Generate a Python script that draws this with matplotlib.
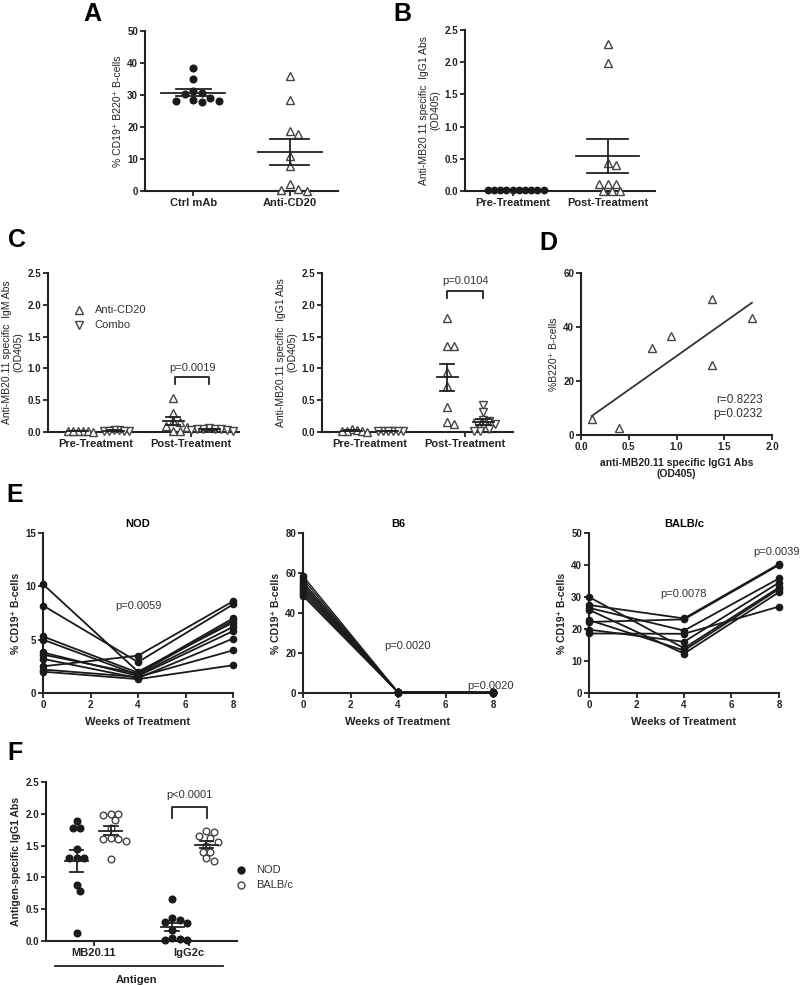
import numpy as np
import matplotlib
matplotlib.use('Agg')
import matplotlib.pyplot as plt

plt.rcParams['font.family'] = ['Liberation Sans', 'DejaVu Sans']

# ---- data ----
a_ctrl = [38.4, 35.0, 31.4, 30.5, 30.3, 29.1, 28.5, 28.2, 28.0, 27.9]
a_anti = [35.8, 28.4, 18.9, 17.9, 10.8, 7.9, 2.2, 0.5, 0.3, 0.0]

b_pre = [0.01, 0.01, 0.01, 0.01, 0.01, 0.01, 0.01, 0.01, 0.01, 0.01]
b_post = [2.28, 1.98, 0.44, 0.41, 0.11, 0.11, 0.11, 0.0, 0.0, 0.0]

igm_pre_anti = [0.02, 0.01, 0.01, 0.02, 0.0, 0.01]
igm_pre_combo = [0.02, 0.03, 0.02, 0.02, 0.03, 0.02]
igm_post_anti = [0.53, 0.30, 0.18, 0.15, 0.10, 0.08, 0.01, 0.01]
igm_post_combo = [0.06, 0.05, 0.05, 0.04, 0.04, 0.03, 0.03, 0.02]

igg_pre_anti = [0.04, 0.03, 0.02, 0.01, 0.01, 0.0]
igg_pre_combo = [0.02, 0.02, 0.01, 0.01, 0.02, 0.01]
igg_post_anti = [1.79, 1.36, 1.36, 0.95, 0.73, 0.40, 0.16, 0.12]
igg_post_combo = [0.43, 0.32, 0.19, 0.17, 0.14, 0.12, 0.10, 0.05, 0.02, 0.01]

d_igg = [0.11, 0.40, 0.74, 0.94, 1.37, 1.37, 1.79]
d_b220 = [6.1, 2.7, 32.3, 36.8, 50.3, 26.0, 43.4]

weeks = [0, 4, 8]
nod = [[10.2, 2.0, 6.6], [8.2, 2.9, 8.3], [5.3, 1.9, 7.0], [5.0, 1.7, 6.2],
       [3.8, 1.6, 5.8], [3.6, 1.8, 6.8], [3.2, 1.4, 5.1], [2.5, 3.5, 8.6],
       [2.2, 1.5, 4.0], [2.0, 1.3, 2.6]]
b6 = [[58.5, 0.4, 0.2], [57.0, 0.3, 0.3], [55.5, 0.5, 0.2], [54.5, 0.2, 0.3],
      [53.5, 0.3, 0.2], [52.5, 0.4, 0.3], [51.5, 0.2, 0.2], [50.5, 0.3, 0.3],
      [49.5, 0.5, 0.2], [48.5, 0.3, 0.3]]
balb = [[30.0, 14.0, 33.0], [27.5, 23.3, 40.3], [26.6, 19.5, 35.8], [26.0, 12.3, 31.5],
        [22.8, 13.3, 32.5], [22.2, 23.0, 40.0], [19.8, 16.0, 34.5], [18.6, 18.5, 27.0]]

f_mb_nod = [1.89, 1.78, 1.77, 1.45, 1.31, 1.31, 1.30, 0.88, 0.78, 0.12]
f_mb_balb = [2.0, 2.0, 1.98, 1.9, 1.78, 1.62, 1.6, 1.6, 1.58, 1.29]
f_igg_nod = [0.66, 0.36, 0.33, 0.30, 0.28, 0.18, 0.05, 0.03, 0.02, 0.01]
f_igg_balb = [1.73, 1.72, 1.65, 1.62, 1.56, 1.50, 1.40, 1.40, 1.30, 1.26]

DARK = '#1a1a1a'
fig = plt.figure(figsize=(8, 9.86), dpi=100)


def axbox(x0, x1, ytop, ybot):
    return fig.add_axes([x0 / 800, 1 - ybot / 986, (x1 - x0) / 800, (ybot - ytop) / 986])


def style(ax):
    for s in ['top', 'right']:
        ax.spines[s].set_visible(False)
    for s in ['left', 'bottom']:
        ax.spines[s].set_linewidth(1.5)
        ax.spines[s].set_color('#222')
    ax.tick_params(width=1.3, length=3.5, labelsize=7, colors='#222', pad=1.5)


def yticks(ax, ticks, fmt):
    ax.set_yticks(ticks, labels=[fmt % t for t in ticks], fontweight='bold')


def swarm(ax, xc, vals, d):
    # simple beeswarm in pixel space so points don't overlap
    tr = ax.transData
    pts = tr.transform(np.column_stack([np.full(len(vals), xc), vals]))
    placed = []
    xs = np.zeros(len(vals))
    for i in np.argsort(vals, kind='stable')[::-1]:
        px, py = pts[i]
        k = 0
        found = None
        while found is None:
            cands = [0.0] if k == 0 else [k * d / 2, -k * d / 2]
            for off in cands:
                if all((px + off - qx) ** 2 + (py - qy) ** 2 >= (0.95 * d) ** 2 for qx, qy in placed):
                    found = off
                    break
            k += 1
        placed.append((px + found, py))
        xs[i] = px + found
    return tr.inverted().transform(np.column_stack([xs, pts[:, 1]]))[:, 0]


def dots(ax, xc, vals, marker, filled, d=6.5, ms=4.8):
    xs = swarm(ax, xc, vals, d)
    if filled:
        ax.plot(xs, vals, ls='none', marker=marker, ms=ms, color=DARK, clip_on=False, zorder=3)
    else:
        ax.plot(xs, vals, ls='none', marker=marker, ms=ms, mfc='white', mec='#444',
                mew=1.0, clip_on=False, zorder=3)


def mean_sem(ax, xc, vals, hw_mean, hw_sem):
    v = np.asarray(vals)
    m = v.mean()
    se = v.std(ddof=1) / np.sqrt(len(v))
    kw = dict(color='#222', lw=1.3, zorder=4, clip_on=False)
    ax.plot([xc - hw_mean, xc + hw_mean], [m, m], **kw)
    ax.plot([xc - hw_sem, xc + hw_sem], [m + se, m + se], **kw)
    ax.plot([xc - hw_sem, xc + hw_sem], [m - se, m - se], **kw)
    ax.plot([xc, xc], [m - se, m + se], **kw)


def bracket(ax, x0, x1, ytop, ybot, label, ytext):
    ax.plot([x0, x0, x1, x1], [ybot, ytop, ytop, ybot], color='#222', lw=1.3, clip_on=False)
    ax.text((x0 + x1) / 2, ytext, label, ha='center', va='center', fontsize=8, color='#333')


def letter(x, y, s):
    fig.text(x / 800, 1 - y / 986, s, fontsize=18, fontweight='bold', ha='center', va='center')


# ---- A ----
ax = axbox(145, 338, 31, 191)
style(ax)
ax.set_xlim(-0.5, 1.5)
ax.set_ylim(0, 50)
yticks(ax, [0, 10, 20, 30, 40, 50], '%d')
ax.set_xticks([0, 1], labels=['Ctrl mAb', 'Anti-CD20'], fontsize=8, fontweight='bold')
dots(ax, 0, a_ctrl, 'o', True, d=8.5, ms=4.8)
dots(ax, 1, a_anti, '^', False, d=8.5, ms=5.8)
mean_sem(ax, 0, a_ctrl, 0.33, 0.18)
mean_sem(ax, 1, a_anti, 0.33, 0.2)
ax.set_ylabel('% CD19⁺ B220⁺ B-cells', fontsize=7.5, color='#222', labelpad=3)
letter(92, 14, 'A')

# ---- B ----
ax = axbox(465, 655, 30, 191)
style(ax)
ax.set_xlim(-0.5, 1.5)
ax.set_ylim(0, 2.5)
yticks(ax, [0, 0.5, 1.0, 1.5, 2.0, 2.5], '%.1f')
ax.set_xticks([0, 1], labels=['Pre-Treatment', 'Post-Treatment'], fontsize=8, fontweight='bold')
dots(ax, 0, b_pre, 'o', True, d=6.2, ms=4.6)
dots(ax, 1, b_post, '^', False, d=8.5, ms=5.8)
mean_sem(ax, 1, b_post, 0.33, 0.22)
ax.set_ylabel('Anti-MB20.11 specific  IgG1 Abs\n(OD405)', fontsize=7.5, color='#222', labelpad=3)
letter(402, 14, 'B')

# ---- C ----
off = 0.19
for x0, ylab, pre_a, pre_c, post_a, post_c in [
        (48, 'Anti-MB20.11 specific  IgM Abs\n(OD405)', igm_pre_anti, igm_pre_combo,
         igm_post_anti, igm_post_combo),
        (322, 'Anti-MB20.11 specific  IgG1 Abs\n(OD405)', igg_pre_anti, igg_pre_combo,
         igg_post_anti, igg_post_combo)]:
    ax = axbox(x0, x0 + 191, 273, 432)
    style(ax)
    ax.set_xlim(-0.5, 1.5)
    ax.set_ylim(0, 2.5)
    yticks(ax, [0, 0.5, 1.0, 1.5, 2.0, 2.5], '%.1f')
    ax.set_xticks([0, 1], labels=['Pre-Treatment', 'Post-Treatment'], fontsize=8, fontweight='bold')
    dots(ax, -off, pre_a, '^', False, d=5.0, ms=5.4)
    dots(ax, off, pre_c, 'v', False, d=5.0, ms=5.4)
    dots(ax, 1 - off, post_a, '^', False, d=7.0, ms=5.4)
    dots(ax, 1 + off, post_c, 'v', False, d=6.0, ms=5.4)
    for xc, v in [(-off, pre_a), (off, pre_c), (1 - off, post_a), (1 + off, post_c)]:
        mean_sem(ax, xc, v, 0.11, 0.075)
    ax.set_ylabel(ylab, fontsize=7.5, color='#222', labelpad=3)
    if x0 == 48:
        bracket(ax, 1 - 0.17, 1 + 0.19, 0.865, 0.755, 'p=0.0019', 1.0)
        ax.plot([0.16], [0.77], transform=ax.transAxes, marker='^', ms=5.4, mfc='white',
                mec='#444', mew=1.0, clip_on=False)
        ax.plot([0.16], [0.675], transform=ax.transAxes, marker='v', ms=5.4, mfc='white',
                mec='#444', mew=1.0, clip_on=False)
        ax.text(0.245, 0.77, 'Anti-CD20', transform=ax.transAxes, va='center', fontsize=8, color='#333')
        ax.text(0.245, 0.675, 'Combo', transform=ax.transAxes, va='center', fontsize=8, color='#333')
    else:
        bracket(ax, 1 - 0.19, 1 + 0.19, 2.22, 2.11, 'p=0.0104', 2.37)
letter(17, 240, 'C')

# ---- D ----
ax = axbox(581, 772, 273, 435)
style(ax)
ax.set_xlim(0, 2)
ax.set_ylim(0, 60)
yticks(ax, [0, 20, 40, 60], '%d')
ax.set_xticks([0, 0.5, 1.0, 1.5, 2.0], labels=['0.0', '0.5', '1.0', '1.5', '2.0'], fontweight='bold')
ax.plot(d_igg, d_b220, ls='none', marker='^', ms=6, mfc='white', mec='#444', mew=1.0,
        clip_on=False, zorder=3)
k, b = np.polyfit(d_igg, d_b220, 1)
xl = np.array([min(d_igg), max(d_igg)])
ax.plot(xl, k * xl + b, color='#333', lw=1.3)
ax.text(1.9, 10.5, 'r=0.8223\np=0.0232', ha='right', va='center', fontsize=8.5, color='#333')
ax.set_ylabel('%B220⁺ B-cells', fontsize=7.5, color='#222', labelpad=3)
ax.set_xlabel('anti-MB20.11 specific IgG1 Abs\n(OD405)', fontsize=7.5, fontweight='bold',
              color='#222', labelpad=4)
letter(548, 243, 'D')

# ---- E ----
for x0, title, mice, ymax, step in [(43, 'NOD', nod, 15, 5), (303, 'B6', b6, 80, 20),
                                    (589, 'BALB/c', balb, 50, 10)]:
    ax = axbox(x0, x0 + 190, 533, 693)
    style(ax)
    ax.set_xlim(0, 8)
    ax.set_ylim(0, ymax)
    yticks(ax, list(range(0, ymax + 1, step)), '%d')
    ax.set_xticks([0, 2, 4, 6, 8], labels=['0', '2', '4', '6', '8'], fontweight='bold')
    lw = 1.0 if title == 'B6' else 1.3
    for m in mice:
        ax.plot(weeks, m, '-o', color=DARK, lw=lw, ms=4.5, clip_on=False, zorder=3)
    ax.set_title(title, fontsize=8, fontweight='bold', pad=4)
    ax.set_xlabel('Weeks of Treatment', fontsize=8, fontweight='bold', color='#222', labelpad=5)
    ax.set_ylabel('% CD19⁺ B-cells', fontsize=7.5, fontweight='bold', color='#222', labelpad=3)
    if title == 'NOD':
        ax.text(4, 8.2, 'p=0.0059', ha='center', va='center', fontsize=8, color='#333')
    elif title == 'B6':
        ax.text(4.4, 23.5, 'p=0.0020', ha='center', va='center', fontsize=8, color='#333')
        ax.text(7.9, 3.6, 'p=0.0020', ha='center', va='center', fontsize=8, color='#333')
    else:
        ax.text(4, 31, 'p=0.0078', ha='center', va='center', fontsize=8, color='#333')
        ax.text(7.9, 44, 'p=0.0039', ha='center', va='center', fontsize=8, color='#333')
letter(15, 495, 'E')

# ---- F ----
ax = axbox(46, 237, 782, 941)
style(ax)
ax.set_xlim(-0.5, 1.5)
ax.set_ylim(0, 2.5)
yticks(ax, [0, 0.5, 1.0, 1.5, 2.0, 2.5], '%.1f')
ax.set_xticks([0, 1], labels=['MB20.11', 'IgG2c'], fontsize=8, fontweight='bold')
off = 0.18
dots(ax, -off, f_mb_nod, 'o', True, d=7.5, ms=4.8)
dots(ax, off, f_mb_balb, 'o', False, d=7.5, ms=4.8)
dots(ax, 1 - off, f_igg_nod, 'o', True, d=7.5, ms=4.8)
dots(ax, 1 + off, f_igg_balb, 'o', False, d=7.5, ms=4.8)
for xc, v in [(-off, f_mb_nod), (off, f_mb_balb), (1 - off, f_igg_nod), (1 + off, f_igg_balb)]:
    mean_sem(ax, xc, v, 0.12, 0.07)
bracket(ax, 1 - 0.18, 1 + 0.19, 2.107, 1.93, 'p<0.0001', 2.3)
ax.plot([0.047, 0.927], [-0.157, -0.157], transform=ax.transAxes, color='#222', lw=1.3, clip_on=False)
ax.text(0.475, -0.245, 'Antigen', transform=ax.transAxes, ha='center', va='center',
        fontsize=8, fontweight='bold', color='#222')
ax.plot([1.02], [0.447], transform=ax.transAxes, marker='o', ms=5, color=DARK, clip_on=False)
ax.plot([1.02], [0.352], transform=ax.transAxes, marker='o', ms=5, mfc='white', mec='#444',
        mew=1.0, clip_on=False)
ax.text(1.10, 0.447, 'NOD', transform=ax.transAxes, va='center', fontsize=8, color='#333')
ax.text(1.10, 0.352, 'BALB/c', transform=ax.transAxes, va='center', fontsize=8, color='#333')
ax.set_ylabel('Antigen-specific IgG1 Abs', fontsize=7.5, fontweight='bold', color='#222', labelpad=3)
letter(15, 753, 'F')

fig.savefig('out.png', dpi=100)
